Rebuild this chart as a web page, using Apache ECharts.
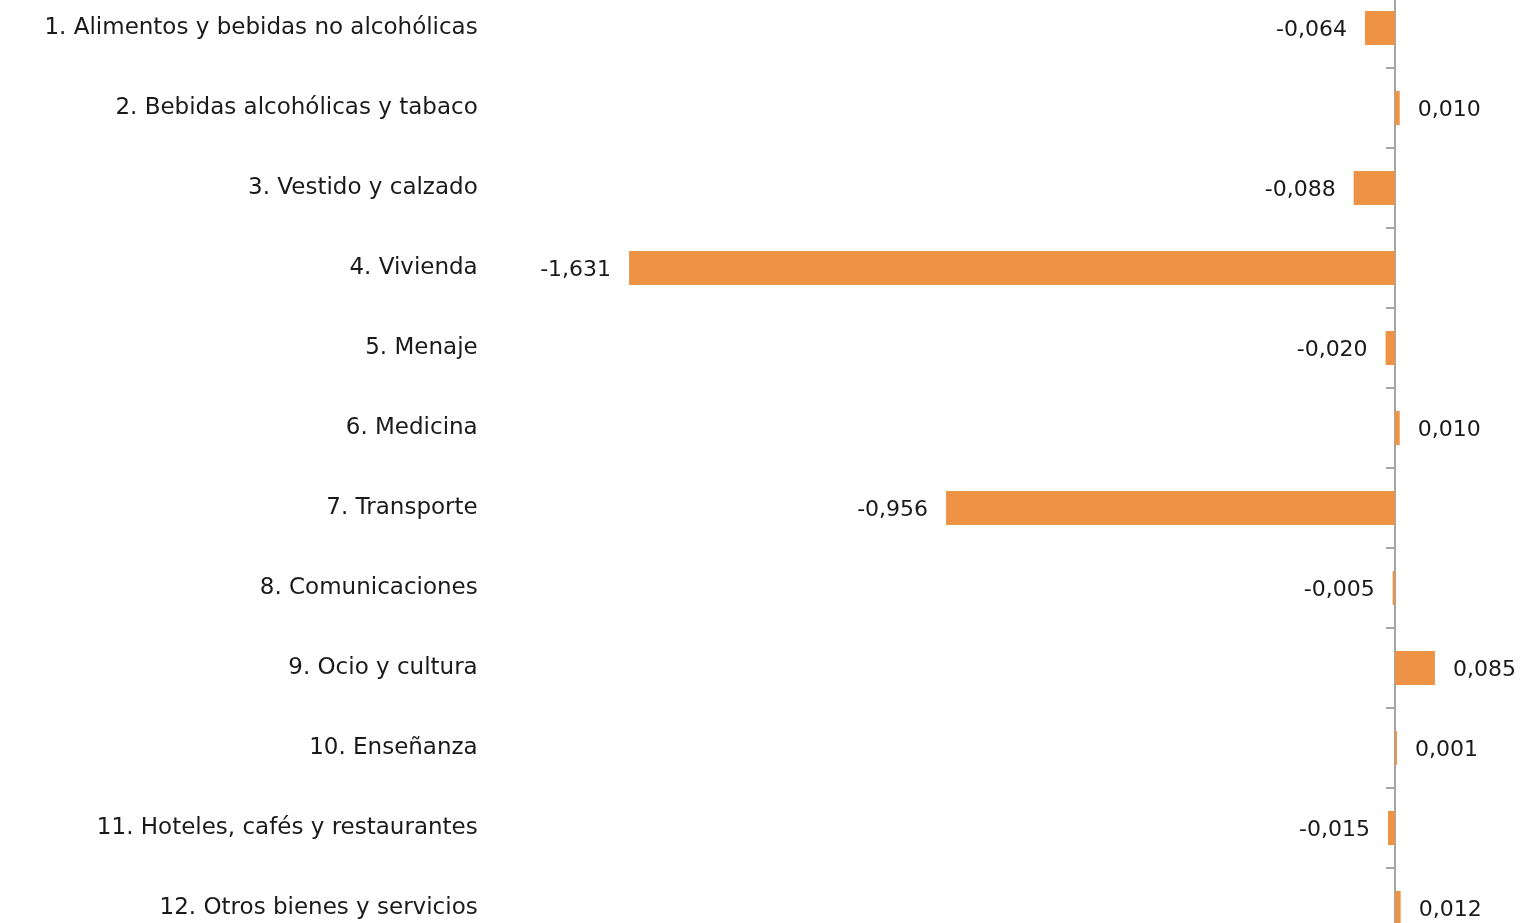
<!DOCTYPE html>
<html>
<head>
<meta charset="utf-8">
<script src="https://cdn.jsdelivr.net/npm/echarts@6/dist/echarts.min.js"></script>
<style>
html,body{margin:0;padding:0;background:#fff;}
#chart{width:1526px;height:923px;}
</style>
</head>
<body>
<div id="chart"></div>
<script>
const categories = [
  "1. Alimentos y bebidas no alcohólicas",
  "2. Bebidas alcohólicas y tabaco",
  "3. Vestido y calzado",
  "4. Vivienda",
  "5. Menaje",
  "6. Medicina",
  "7. Transporte",
  "8. Comunicaciones",
  "9. Ocio y cultura",
  "10. Enseñanza",
  "11. Hoteles, cafés y restaurantes",
  "12. Otros bienes y servicios"
];
const values = [-0.064, 0.010, -0.088, -1.631, -0.020, 0.010, -0.956, -0.005, 0.085, 0.001, -0.015, 0.012];

const fmt = v => v.toFixed(3).replace('.', ',');
const FONT = 'DejaVu Sans, Verdana, sans-serif';

const chart = echarts.init(document.getElementById('chart'));
chart.setOption({
  animation: false,
  backgroundColor: '#ffffff',
  grid: { left: 596.7, right: 4.2, top: -12, bottom: -25, containLabel: false, outerBoundsMode: 'none' },
  xAxis: {
    type: 'value', min: -1.7, max: 0.27, show: false
  },
  yAxis: [{
    type: 'category', data: categories, inverse: true,
    axisLine: { onZero: true, lineStyle: { color: '#a6a6a6', width: 2 } },
    axisTick: { show: true, length: 9, lineStyle: { color: '#a6a6a6', width: 2 } },
    axisLabel: { show: false },
    splitLine: { show: false }
  }, {
    type: 'category', data: categories, inverse: true, position: 'left',
    axisLine: { show: false, onZero: false },
    axisTick: { show: false },
    axisLabel: { show: true, margin: 119, color: '#1a1a1a', fontFamily: FONT, fontSize: 23, padding: [4, 0, 0, 0], hideOverlap: false },
    splitLine: { show: false }
  }],
  series: [{
    type: 'bar',
    yAxisIndex: 0,
    data: values.map(v => ({
      value: v,
      label: { position: v < 0 ? 'left' : 'right' }
    })),
    barWidth: 34,
    barMinHeight: 2,
    itemStyle: { color: '#EE9246' },
    label: {
      show: true, distance: 18, color: '#1a1a1a', offset: [0, 2],
      fontFamily: FONT, fontSize: 22,
      formatter: p => fmt(p.value)
    }
  }]
});
</script>
</body>
</html>
